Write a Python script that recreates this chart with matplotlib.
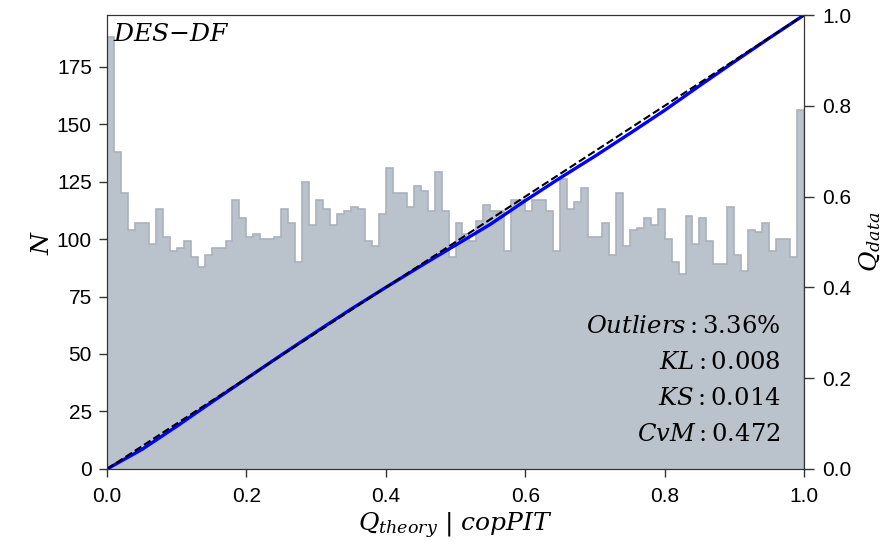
import numpy as np
import matplotlib
matplotlib.use('Agg')
import matplotlib.pyplot as plt

plt.rcParams['font.family'] = ['Liberation Sans', 'DejaVu Sans']
plt.rcParams['mathtext.fontset'] = 'dejavuserif'

# copPIT histogram, 100 bins on [0, 1]
counts = [188, 138, 120, 104, 107, 107, 98, 113, 101, 95,
          96, 99, 92, 88, 93, 96, 96, 99, 117, 109,
          101, 102, 100, 100, 101, 113, 107, 90, 125, 106,
          117, 113, 106, 111, 112, 114, 113, 99, 97, 111,
          131, 120, 120, 114, 123, 121, 112, 129, 112, 92,
          107, 102, 99, 108, 115, 112, 112, 95, 117, 117,
          112, 117, 117, 112, 95, 126, 113, 116, 122, 101,
          101, 107, 93, 120, 97, 104, 105, 109, 106, 113,
          100, 90, 85, 110, 98, 109, 99, 89, 89, 114,
          93, 86, 104, 103, 107, 95, 100, 100, 92, 156]
edges = np.linspace(0, 1, len(counts) + 1)

# Q-Q curve
q_theory = [0.0, 0.05, 0.1, 0.15, 0.2, 0.25, 0.3, 0.35, 0.4, 0.45, 0.5,
            0.55, 0.6, 0.65, 0.7, 0.75, 0.8, 0.85, 0.9, 0.95, 1.0]
q_data = [0.0, 0.043, 0.094, 0.147, 0.199, 0.251, 0.302, 0.352, 0.4, 0.447, 0.493,
          0.539, 0.591, 0.641, 0.689, 0.739, 0.79, 0.844, 0.897, 0.949, 1.0]

stats = [('Outliers', '3.36\\%'), ('KL', '0.008'), ('KS', '0.014'), ('CvM', '0.472')]

fig = plt.figure(figsize=(8.89, 5.44), dpi=100)
ax = fig.add_axes([0.1204, 0.1379, 0.7840, 0.8345])
ax.stairs(counts, edges, fill=True, facecolor='lightslategray', alpha=0.5)
ax.stairs(counts, edges, fill=False, color='#a9b2bd', linewidth=1.2)
ax.set_xlim(0, 1)
ax.set_ylim(0, max(counts) * 1.05)
ax.set_xticks(np.arange(0, 1.01, 0.2))
ax.set_yticks(np.arange(0, 176, 25))
ax.tick_params(labelsize=15, length=6, width=1, color='#333333')
ax.tick_params(axis='x', pad=7)
ax.tick_params(axis='y', pad=5)
ax.set_ylabel('$N$', fontsize=18, labelpad=2)
ax.set_xlabel('$Q_{theory}\\ |\\ copPIT$', fontsize=18, labelpad=3)
for s in ax.spines.values():
    s.set_color('#333333')

ax2 = ax.twinx()
ax2.plot(q_theory, q_data, color='blue', lw=2.4)
ax2.plot([0, 1], [0, 1], color='black', ls='--', lw=1.5)
ax2.set_ylim(0, 1)
ax2.set_xlim(0, 1)
ax2.set_yticks(np.arange(0, 1.01, 0.2))
ax2.tick_params(labelsize=15, length=7, width=1, pad=6, color='#333333')
ax2.set_ylabel('$Q_{data}$', fontsize=18, labelpad=4)
for s in ax2.spines.values():
    s.set_color('#333333')

ax.text(0.008, 0.985, '$DES{-}DF$', transform=ax.transAxes, fontsize=18, va='top', ha='left')
for i, (name, val) in enumerate(stats):
    ax.text(0.966, 0.3135 - i * 0.0795, '$%s: %s$' % (name, val), transform=ax.transAxes,
            fontsize=17.5, ha='right', va='center')

fig.savefig('out.png', dpi=100)
